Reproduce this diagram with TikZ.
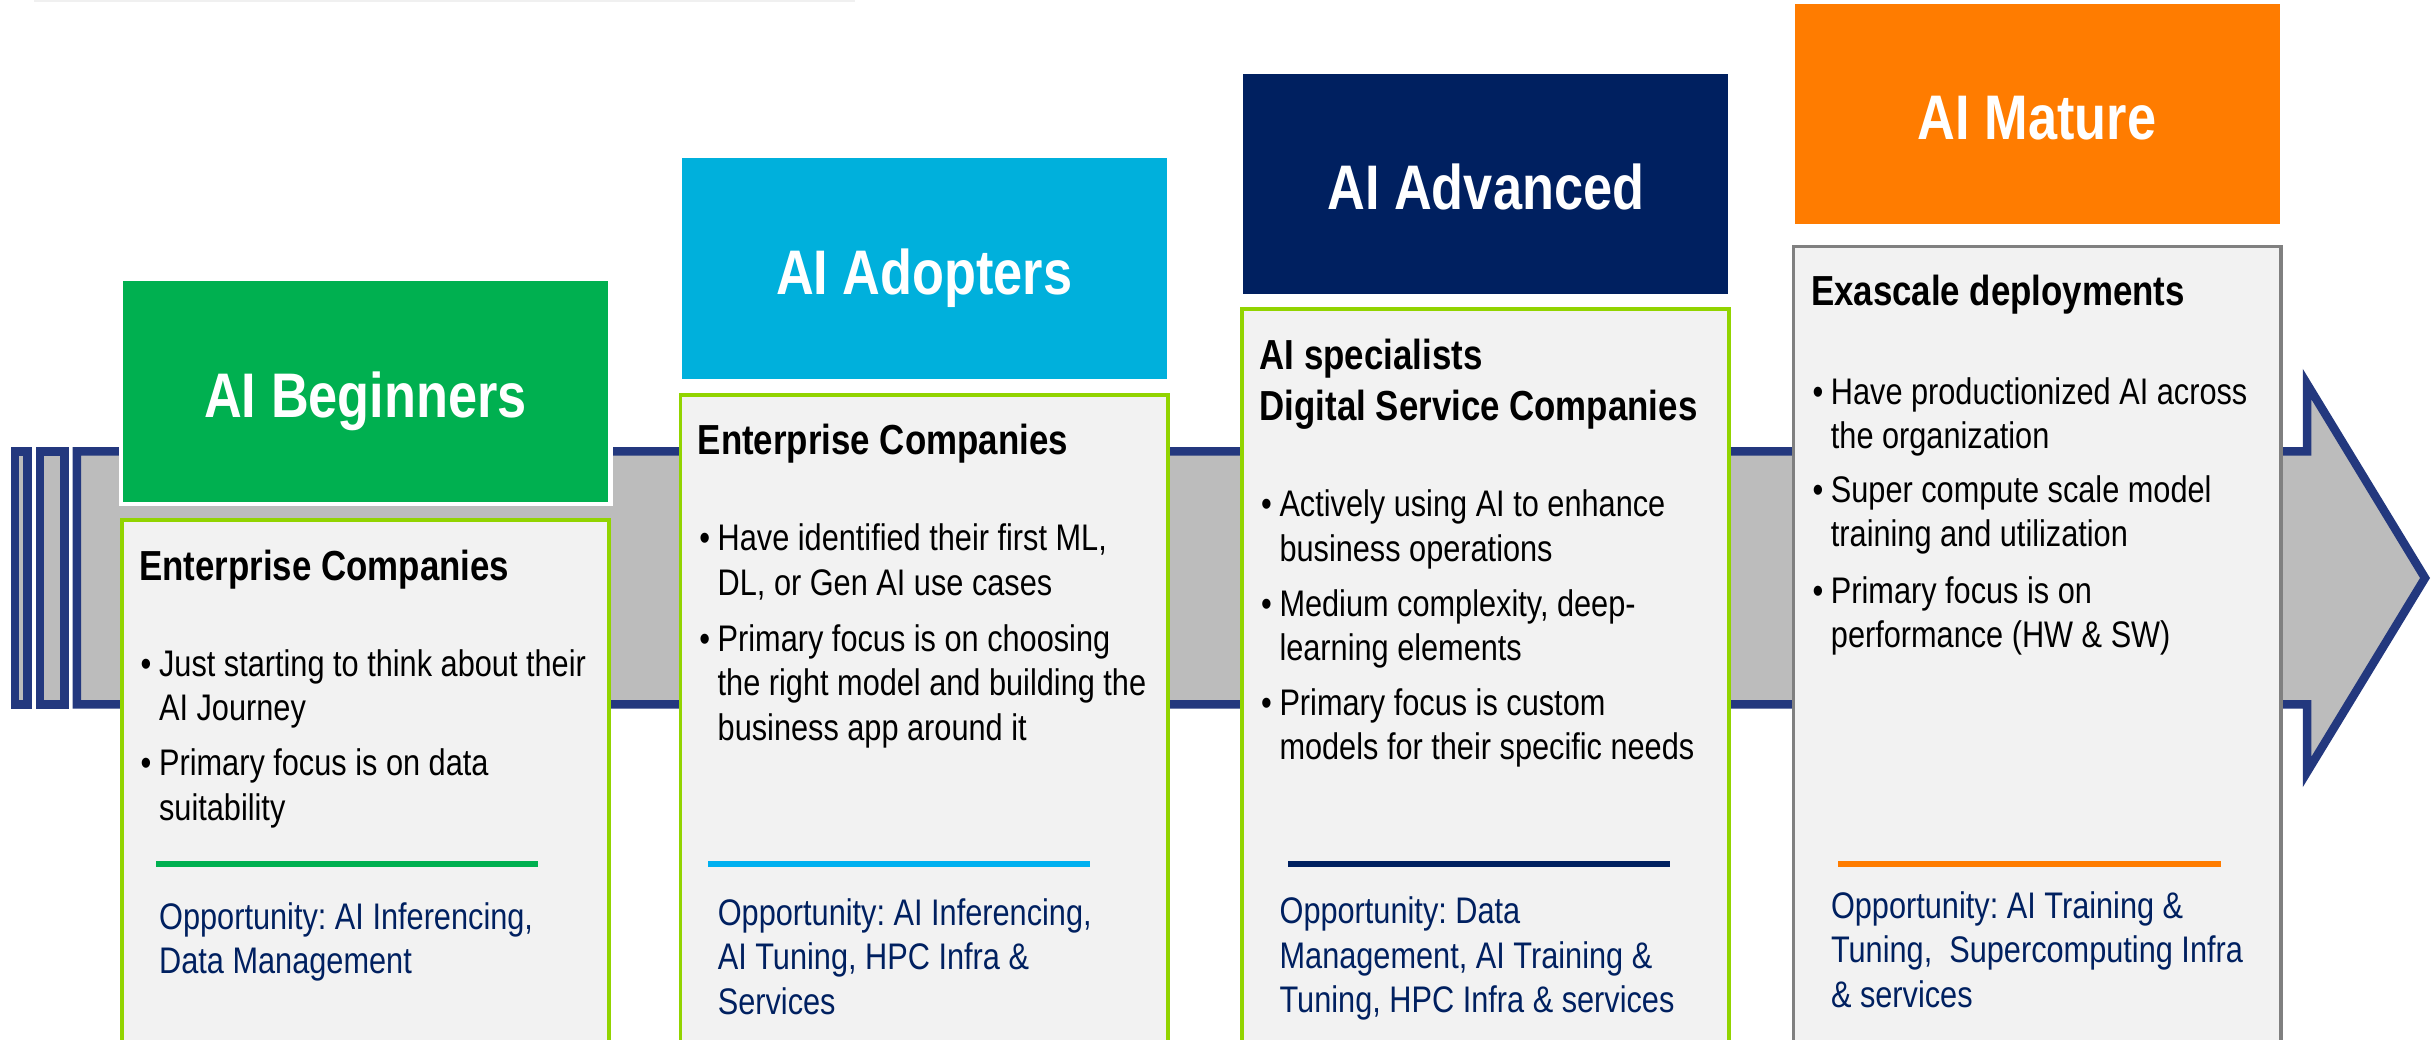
\documentclass[tikz,border=0pt]{standalone}
\usepackage{fontspec}
\setmainfont{Liberation Sans}[FakeStretch=0.83]
\frenchspacing
\definecolor{bandgray}{RGB}{188,188,188}
\definecolor{bandblue}{RGB}{35,56,126}
\definecolor{hgreen}{RGB}{0,176,80}
\definecolor{hcyan}{RGB}{0,176,220}
\definecolor{hnavy}{RGB}{0,32,96}
\definecolor{horange}{RGB}{255,124,0}
\definecolor{lcyan}{RGB}{0,176,240}
\definecolor{lime}{RGB}{146,212,0}
\definecolor{bodyfill}{RGB}{242,242,242}
\definecolor{oppblue}{RGB}{0,32,96}
\definecolor{toplinegray}{RGB}{240,240,240}
\newcommand\bodyfnt{\fontsize{37}{44.5}\selectfont}
\newcommand\headfnt{\fontsize{42}{51}\selectfont\bfseries}
\newcommand\bpar[1]{\vtop{\hsize=470pt\bodyfnt\frenchspacing\parindent=0pt\rightskip=0pt plus 1fil\hangindent=18.4pt\hangafter=1\noindent\makebox[18.4pt][l]{\textbullet}#1\par}}
\newcommand\hpar[1]{\vtop{\hsize=470pt\headfnt\frenchspacing\parindent=0pt\rightskip=0pt plus 1fil\noindent #1\par}}
\newcommand\opar[1]{\vtop{\hsize=470pt\bodyfnt\frenchspacing\parindent=0pt\rightskip=0pt plus 1fil\noindent #1\par}}
\tikzset{
  band/.style={fill=bandgray, draw=bandblue, line width=8.5pt, line join=miter, miter limit=10},
  hdrbox/.style={draw=white, line width=4.5pt, minimum width=489.5pt, minimum height=225pt,
    inner sep=0pt, text height=51pt, text depth=0pt, text=white,
    font=\fontsize{63}{70}\selectfont\bfseries},
  bodybox/.style={fill=bodyfill, draw=lime, line width=3.5pt},
  txt/.style={anchor=base west, inner sep=0pt},
  opp/.style={anchor=base west, inner sep=0pt, text=oppblue},
  sepline/.style={line width=6pt}
}
\begin{document}
\begin{tikzpicture}[x=1pt,y=-1pt]
\useasboundingbox (0,0) rectangle (2432,1040);
\clip (0,0) rectangle (2432,1040);
\fill[white] (0,0) rectangle (2432,1040);
\fill[toplinegray] (34,0) rectangle (855,2.5);
% band arrow
\draw[band] (15.2,451.3) rectangle (27.5,704.3);
\draw[band] (40,451.3) rectangle (64.4,704.3);
\draw[band] (76.9,451.3) -- (2307,451.3) -- (2307,384) -- (2425,578) -- (2307,772) -- (2307,704.3) -- (76.9,704.3) -- cycle;
% headers
\node[hdrbox, fill=hgreen] (h1) at (365.5,391.5) {AI Beginners};
\node[hdrbox, fill=hcyan] (h2) at (924.2,268.7) {AI Adopters};
\node[hdrbox, fill=hnavy] (h3) at (1485.8,184.2) {AI Advanced};
\node[hdrbox, fill=horange] (h4) at (2037,114.2) {AI Mature};
% body boxes
\draw[bodybox] (121.75,520.05) rectangle (609.15,1060);
\draw[bodybox] (680.35,395.05) rectangle (1167.85,1060);
\draw[bodybox] (1242.15,309.05) rectangle (1728.95,1060);
\draw[bodybox, draw=gray] (1793.55,246.75) rectangle (2280.75,1060);
% separator lines
\draw[sepline, hgreen] (156,864) -- (537.5,864);
\draw[sepline, lcyan] (708,864) -- (1090,864);
\draw[sepline, hnavy] (1288,864) -- (1670,864);
\draw[sepline, horange] (1838,864) -- (2221,864);
% column 1
\node[txt] (c1h) at (139,580) {\hpar{Enterprise Companies}};
\node[txt] (c1b1) at (140.5,676.3) {\bpar{Just starting to think about their\\AI Journey}};
\node[txt] (c1b2) at (140.5,775.5) {\bpar{Primary focus is on data\\suitability}};
\node[opp] (c1o) at (159,929) {\opar{Opportunity: AI Inferencing,\\Data Management}};
% column 2
\node[txt] (c2h) at (697.6,454.5) {\hpar{Enterprise Companies}};
\node[txt] (c2b1) at (699.1,550.8) {\bpar{Have identified their first ML,\\DL, or Gen AI use cases}};
\node[txt] (c2b2) at (699.1,651.4) {\bpar{Primary focus is on choosing\\the right model and building the\\business app around it}};
\node[opp] (c2o) at (717.6,925) {\opar{Opportunity: AI Inferencing,\\AI Tuning, HPC Infra \&\\Services}};
% column 3
\node[txt] (c3h) at (1259.4,369.7) {\hpar{AI specialists\\Digital Service Companies}};
\node[txt] (c3b1) at (1260.9,516.5) {\bpar{Actively using AI to enhance\\business operations}};
\node[txt] (c3b2) at (1260.9,616) {\bpar{Medium complexity, deep-\\learning elements}};
\node[txt] (c3b3) at (1260.9,715.3) {\bpar{Primary focus is custom\\models for their specific needs}};
\node[opp] (c3o) at (1279.4,923.7) {\opar{Opportunity: Data\\Management, AI Training \&\\Tuning, HPC Infra \& services}};
% column 4
\node[txt] (c4h) at (1810.8,306) {\hpar{Exascale deployments}};
\node[txt] (c4b1) at (1812.3,404) {\bpar{Have productionized AI across\\the organization}};
\node[txt] (c4b2) at (1812.3,502) {\bpar{Super compute scale model\\training and utilization}};
\node[txt] (c4b3) at (1812.3,603) {\bpar{Primary focus is on\\performance (HW \& SW)}};
\node[opp] (c4o) at (1830.8,918) {\opar{Opportunity: AI Training \&\\Tuning,~ Supercomputing Infra\\\& services}};
\end{tikzpicture}
\end{document}
